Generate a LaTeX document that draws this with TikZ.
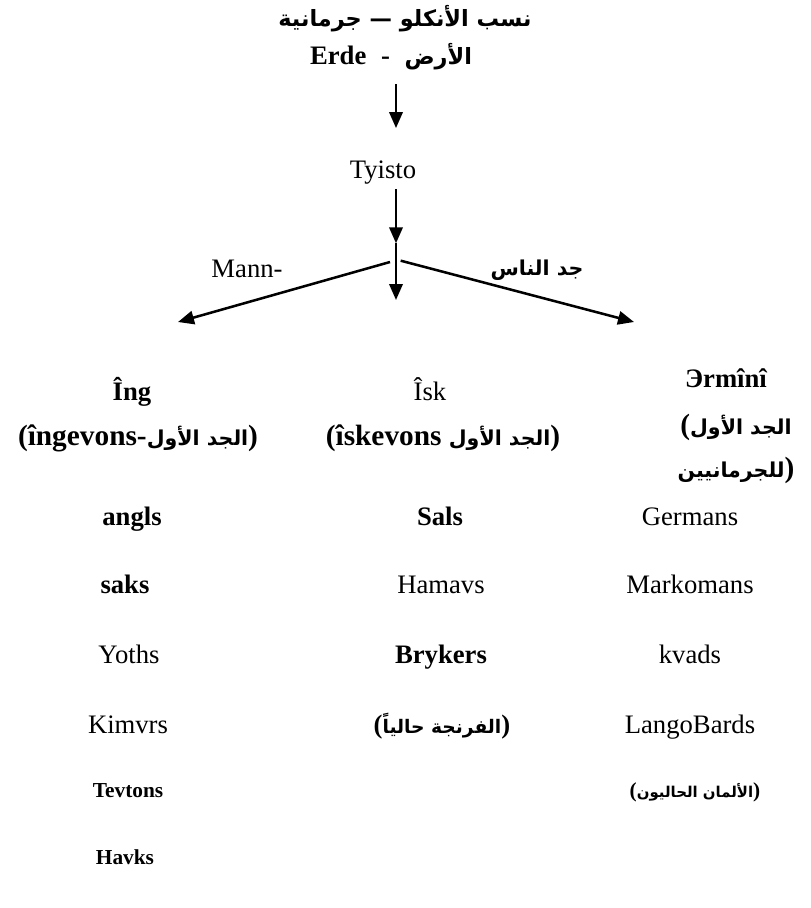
\documentclass[tikz,border=0pt]{standalone}
\usepackage{fontspec}
\setmainfont{Liberation Serif}
\newfontfamily\arabicfont[Script=Arabic,Scale=0.7]{DejaVu Sans}
\TeXXeTstate=1
\usetikzlibrary{arrows.meta}

\newcommand{\artext}[1]{\hbox{\arabicfont\bfseries\beginR #1\endR}}

\begin{document}
\begin{tikzpicture}[x=0.75pt,y=-0.75pt,
    word/.style={font=\fontsize{20}{22}\selectfont, inner sep=1pt, anchor=base},
    bword/.style={word, font=\fontsize{20}{22}\selectfont\bfseries},
    pword/.style={word, font=\fontsize{22}{24}\selectfont\bfseries},
    sword/.style={word, font=\fontsize{16}{18}\selectfont\bfseries},
    arr/.style={line width=1.9pt, -{Triangle[length=12pt,width=10pt]}}]
        \useasboundingbox (0,0) rectangle (811,908);
        % heading
        \node[word, font=\fontsize{24}{26}\selectfont] (title) at (405,26) {\artext{نسب الأنكلو — جرمانية}};
        \node[bword] (erde) at (391,64) {Erde\hspace{0.55em}-\hspace{0.55em}{\fontsize{24}{26}\selectfont\artext{الأرض}}};
        \node[word] (tyisto) at (383,178) {Tyisto};
        % fork of the three branches
        \coordinate (fork) at (396,262);
        \coordinate (ltip) at (178,322);
        \coordinate (mtip) at (396,300);
        \coordinate (rtip) at (634,322);
        \draw[arr, shorten <=10pt, shorten >=23pt] (erde.south -| fork) -- (tyisto.north -| fork);
        \draw[arr, shorten <=3pt] (tyisto.south -| fork) -- ([yshift=14pt]fork);
        \draw[arr] ([yshift=14pt]fork) -- (mtip);
        \draw[arr] ([xshift=-4.5pt]fork) -- (ltip);
        \draw[arr] ([xshift=3.5pt,yshift=1pt]fork) -- (rtip);
        \node[word] (mann) at (247,277) {Mann-};
        \node[word, font=\fontsize{22}{24}\selectfont] (jadnas) at (537,275) {\artext{جد الناس}};
        % left branch
        \node[bword] (ing) at (132,400) {Îng};
        \node[pword] (ingev) at (138,445) {(îngevons-\artext{الجد الأول})};
        \node[bword] (angls) at (132,525) {angls};
        \node[bword] (saks) at (125,593) {saks};
        \node[word] (yoths) at (129,663) {Yoths};
        \node[word] (kimvrs) at (128,733) {Kimvrs};
        \node[sword] (tevtons) at (128,797) {Tevtons};
        \node[sword] (havks) at (125,864) {Havks};
        % middle branch
        \node[word] (isk) at (430,400) {Îsk};
        \node[pword] (iskev) at (443,445) {(îskevons \artext{الجد الأول})};
        \node[bword] (sals) at (440,525) {Sals};
        \node[word] (hamavs) at (441,593) {Hamavs};
        \node[bword] (brykers) at (441,663) {Brykers};
        \node[bword] (franks) at (442,733) {(\artext{الفرنجة حالياً})};
        % right branch
        \node[bword] (ermini) at (726,387) {Эrmînî};
        \node[pword] (jadawal) at (736,434) {(\artext{الجد الأول}};
        \node[pword] (germ) at (736,477) {\artext{للجرمانيين})};
        \node[word] (germans) at (690,525) {Germans};
        \node[word] (markomans) at (690,593) {Markomans};
        \node[word] (kvads) at (690,663) {kvads};
        \node[word] (langobards) at (690,733) {LangoBards};
        \node[sword] (alman) at (695,797) {(\artext{الألمان الحاليون})};
    \end{tikzpicture}
\end{document}
